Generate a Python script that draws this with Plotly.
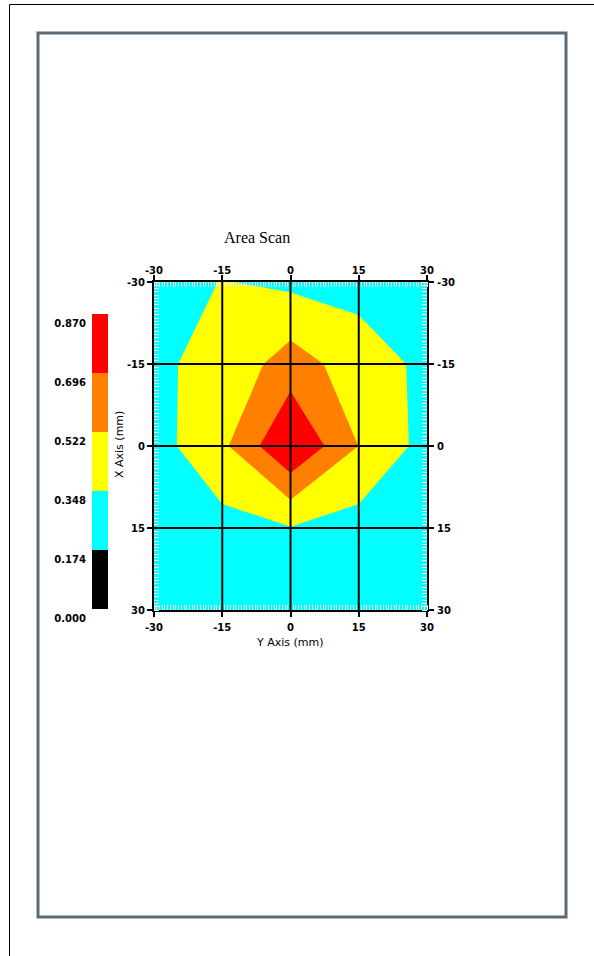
import plotly.graph_objects as go

W, H = 594, 956

# ---------------- data ----------------
x_pos = [-30, -15, 0, 15, 30]          # Y Axis (mm)
y_pos = [-30, -15, 0, 15, 30]          # X Axis (mm)
z_vals = [
    [0.250, 0.355, 0.310, 0.293, 0.250],
    [0.325, 0.390, 0.609, 0.430, 0.312],
    [0.279, 0.486, 0.870, 0.520, 0.286],
    [0.250, 0.291, 0.340, 0.277, 0.250],
    [0.220, 0.230, 0.240, 0.230, 0.220],
]
levels = [0.000, 0.174, 0.348, 0.522, 0.696, 0.870]
level_labels = ["0.000", "0.174", "0.348", "0.522", "0.696", "0.870"]
band_colors = ["#000000", "#00ffff", "#ffff00", "#ff8000", "#ff0000"]
axis_ticks = [-30, -15, 0, 15, 30]
axis_tick_labels = ["-30", "-15", "0", "15", "30"]
grid_vals = [-15, 0, 15]
axis_range = [-30, 30]


def px_x(p):
    return p / W


def px_y(p):
    return 1 - p / H


# colorscale robust to level / mid-band mapping for the contour
cut = [0.0, 0.21, 0.37, 0.54, 0.71, 1.0]
cont_scale = []
for i, c in enumerate(band_colors):
    cont_scale += [[cut[i], c], [cut[i + 1], c]]

# even steps for the legend heatmap
leg_scale = []
for i, c in enumerate(band_colors):
    leg_scale += [[i / 5, c], [(i + 1) / 5, c]]

fig = go.Figure()

fig.add_trace(go.Contour(
    x=x_pos, y=y_pos, z=z_vals,
    autocontour=False,
    contours=dict(start=levels[0], end=levels[-1], size=levels[1] - levels[0],
                  coloring="fill", showlines=False),
    colorscale=cont_scale,
    line=dict(width=0, smoothing=0),
    showscale=False,
    hoverinfo="skip",
    xaxis="x", yaxis="y",
))

# invisible helpers so the mirrored label axes (top / right) are drawn
fig.add_trace(go.Scatter(x=axis_range, y=axis_range, mode="markers",
                         marker=dict(opacity=0), hoverinfo="skip",
                         xaxis="x2", yaxis="y"))
fig.add_trace(go.Scatter(x=axis_range, y=axis_range, mode="markers",
                         marker=dict(opacity=0), hoverinfo="skip",
                         xaxis="x", yaxis="y2"))

mids = [(levels[i] + levels[i + 1]) / 2 for i in range(len(levels) - 1)]
fig.add_trace(go.Heatmap(
    x=[0], y=mids, z=[[m] for m in mids],
    zmin=levels[0], zmax=levels[-1],
    colorscale=leg_scale, showscale=False, hoverinfo="skip",
    xaxis="x3", yaxis="y3",
))

tick_font = dict(family="DejaVu Sans", size=10, color="black", weight="bold")
xdom = [px_x(154), px_x(427)]
ydom = [px_y(610), px_y(282)]
minor = dict(tickmode="linear", tick0=-30, dtick=0.6, ticks="inside",
             ticklen=5, tickwidth=1, tickcolor="#eeeeee")

fig.update_layout(
    width=W, height=H,
    margin=dict(l=0, r=0, t=0, b=0, pad=0, autoexpand=False),
    paper_bgcolor="white", plot_bgcolor="white",
    showlegend=False,
    xaxis=dict(domain=xdom, range=axis_range, tickmode="array",
               tickvals=axis_ticks, ticktext=axis_tick_labels,
               ticks="outside", ticklen=5, tickwidth=1.5, tickcolor="black",
               showline=True, linecolor="black", linewidth=2, mirror="ticks",
               showgrid=False, zeroline=False, tickfont=tick_font,
               minor=minor, anchor="y", layer="above traces", automargin=False,
               ticklabelstandoff=2),
    xaxis2=dict(domain=xdom, range=axis_range, overlaying="x", side="top",
                tickmode="array", tickvals=axis_ticks, ticktext=axis_tick_labels,
                ticks="", showline=False, showgrid=False, zeroline=False,
                tickfont=tick_font, anchor="y", ticklabelstandoff=5,
                automargin=False),
    yaxis=dict(domain=ydom, range=axis_range[::-1], tickmode="array",
               tickvals=axis_ticks, ticktext=axis_tick_labels,
               ticks="outside", ticklen=5, tickwidth=1.5, tickcolor="black",
               showline=True, linecolor="black", linewidth=2, mirror="ticks",
               showgrid=False, zeroline=False, tickfont=tick_font,
               minor=minor, anchor="x", layer="above traces", automargin=False,
               ticklabelstandoff=0),
    yaxis2=dict(domain=ydom, range=axis_range[::-1], overlaying="y", side="right",
                tickmode="array", tickvals=axis_ticks, ticktext=axis_tick_labels,
                ticks="", showline=False, showgrid=False, zeroline=False,
                tickfont=tick_font, anchor="x", ticklabelstandoff=9,
                automargin=False),
    xaxis3=dict(domain=[px_x(92), px_x(108)], range=[-0.5, 0.5], visible=False,
                anchor="y3", automargin=False),
    yaxis3=dict(domain=[px_y(609), px_y(314)], range=[levels[0], levels[-1]],
                tickmode="array", tickvals=levels, ticktext=level_labels,
                ticks="", showline=False, showgrid=False, zeroline=False,
                ticklabelshift=9, ticklabelstandoff=5,
                tickfont=dict(family="DejaVu Sans", size=10, color="black",
                              weight="bold"),
                anchor="x3", side="left", automargin=False),
)

shapes = []
for v in grid_vals:
    shapes.append(dict(type="line", xref="x", yref="y domain", x0=v, x1=v, y0=0, y1=1,
                       line=dict(color="black", width=2), layer="above"))
    shapes.append(dict(type="line", xref="x domain", yref="y", x0=0, x1=1, y0=v, y1=v,
                       line=dict(color="black", width=2), layer="above"))
# page frames
shapes.append(dict(type="line", xref="paper", yref="paper", x0=px_x(9.5), x1=px_x(9.5),
                   y0=px_y(4.5), y1=0, line=dict(color="black", width=1)))
shapes.append(dict(type="line", xref="paper", yref="paper", x0=px_x(9.5), x1=1,
                   y0=px_y(4.5), y1=px_y(4.5), line=dict(color="black", width=1)))
shapes.append(dict(type="rect", xref="paper", yref="paper", x0=px_x(38), x1=px_x(566),
                   y0=px_y(33), y1=px_y(917), line=dict(color="#5c6c76", width=3),
                   fillcolor="rgba(0,0,0,0)"))
fig.update_layout(shapes=shapes)

fig.add_annotation(text="Area Scan", xref="paper", yref="paper", x=px_x(257), y=px_y(237),
                   showarrow=False, xanchor="center", yanchor="middle",
                   font=dict(family="Liberation Serif", size=16, color="black"))
fig.add_annotation(text="Y Axis (mm)", xref="paper", yref="paper", x=px_x(290), y=px_y(642),
                   showarrow=False, xanchor="center", yanchor="middle",
                   font=dict(family="DejaVu Sans", size=11, color="black"))
fig.add_annotation(text="X Axis (mm)", xref="paper", yref="paper", x=px_x(120), y=px_y(445),
                   showarrow=False, xanchor="center", yanchor="middle", textangle=-90,
                   font=dict(family="DejaVu Sans", size=11, color="black"))

fig.write_html(
    "out.html",
    config=dict(displayModeBar=False),
    post_script="document.documentElement.style.margin='0';"
                "document.body.style.margin='0';document.body.style.padding='0';",
)
